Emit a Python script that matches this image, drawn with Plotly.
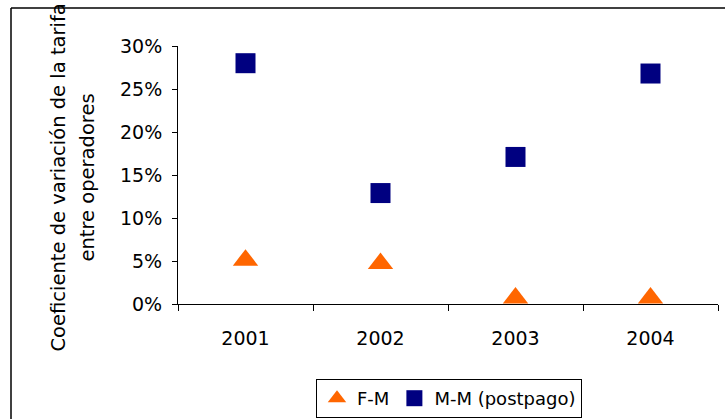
import plotly.graph_objects as go

# Data
years = ["2001", "2002", "2003", "2004"]
fm_values = [0.051, 0.047, 0.007, 0.007]          # F-M
mm_values = [0.280, 0.129, 0.171, 0.268]          # M-M (postpago)
y_ticks = [0, 0.05, 0.10, 0.15, 0.20, 0.25, 0.30]
title_lines = ["Coeficiente de variación de la tarifa", "entre operadores"]

W, H = 725, 419
L, R, T, B = 178, 7, 46, 115
FONT = "DejaVu Sans"


def px_x(px):
    return (px - L) / (W - L - R)


def px_y(py):
    return (H - B - py) / (H - T - B)


fig = go.Figure()
fig.add_trace(go.Scatter(
    x=years, y=fm_values, mode="markers", name="F-M",
    marker=dict(symbol="triangle-up", size=22, color="#FF6600", line=dict(width=0)),
))
fig.add_trace(go.Scatter(
    x=years, y=mm_values, mode="markers", name="M-M (postpago)",
    marker=dict(symbol="square", size=20, color="#000080", line=dict(width=0)),
))

# Outer frame (top and left edges)
frame = dict(type="line", xref="paper", yref="paper",
             line=dict(color="black", width=1.5), layer="above")
fig.add_shape(**frame, x0=px_x(11), y0=px_y(8), x1=px_x(730), y1=px_y(8))
fig.add_shape(**frame, x0=px_x(11), y0=px_y(8), x1=px_x(11), y1=px_y(430))

# Two-line rotated y-axis title
for text, cx in zip(title_lines, [58, 87]):
    fig.add_annotation(
        text=text, xref="paper", yref="paper", x=px_x(cx), y=px_y(177.5),
        xanchor="center", yanchor="middle", textangle=-90, showarrow=False,
        font=dict(family=FONT, size=19.5, color="black"),
    )

fig.update_layout(
    width=W, height=H,
    margin=dict(l=L, r=R, t=T, b=B, pad=0, autoexpand=False),
    paper_bgcolor="white", plot_bgcolor="white",
    font=dict(family=FONT, size=19, color="black"),
    showlegend=True,
    legend=dict(
        orientation="h", xref="container", yref="container",
        x=449 / W, y=(H - 398.5) / H, xanchor="center", yanchor="middle",
        bordercolor="black", borderwidth=1, bgcolor="white",
        font=dict(family=FONT, size=18, color="black"),
        itemwidth=30, tracegroupgap=0,
    ),
    xaxis=dict(
        type="category", tickson="boundaries", ticks="outside", ticklen=6,
        tickcolor="black", showline=True, linecolor="black", linewidth=1,
        showgrid=False, zeroline=False, range=[-0.5, 3.5],
        tickfont=dict(family=FONT, size=19), ticklabelstandoff=17,
    ),
    yaxis=dict(
        range=[0, 0.30], tickvals=y_ticks, tickformat=".0%",
        ticks="outside", ticklen=5, tickcolor="black",
        showline=True, linecolor="black", linewidth=1,
        showgrid=False, zeroline=False, ticklabelstandoff=6,
        tickfont=dict(family=FONT, size=19),
    ),
)

fig.write_html("out.html")
